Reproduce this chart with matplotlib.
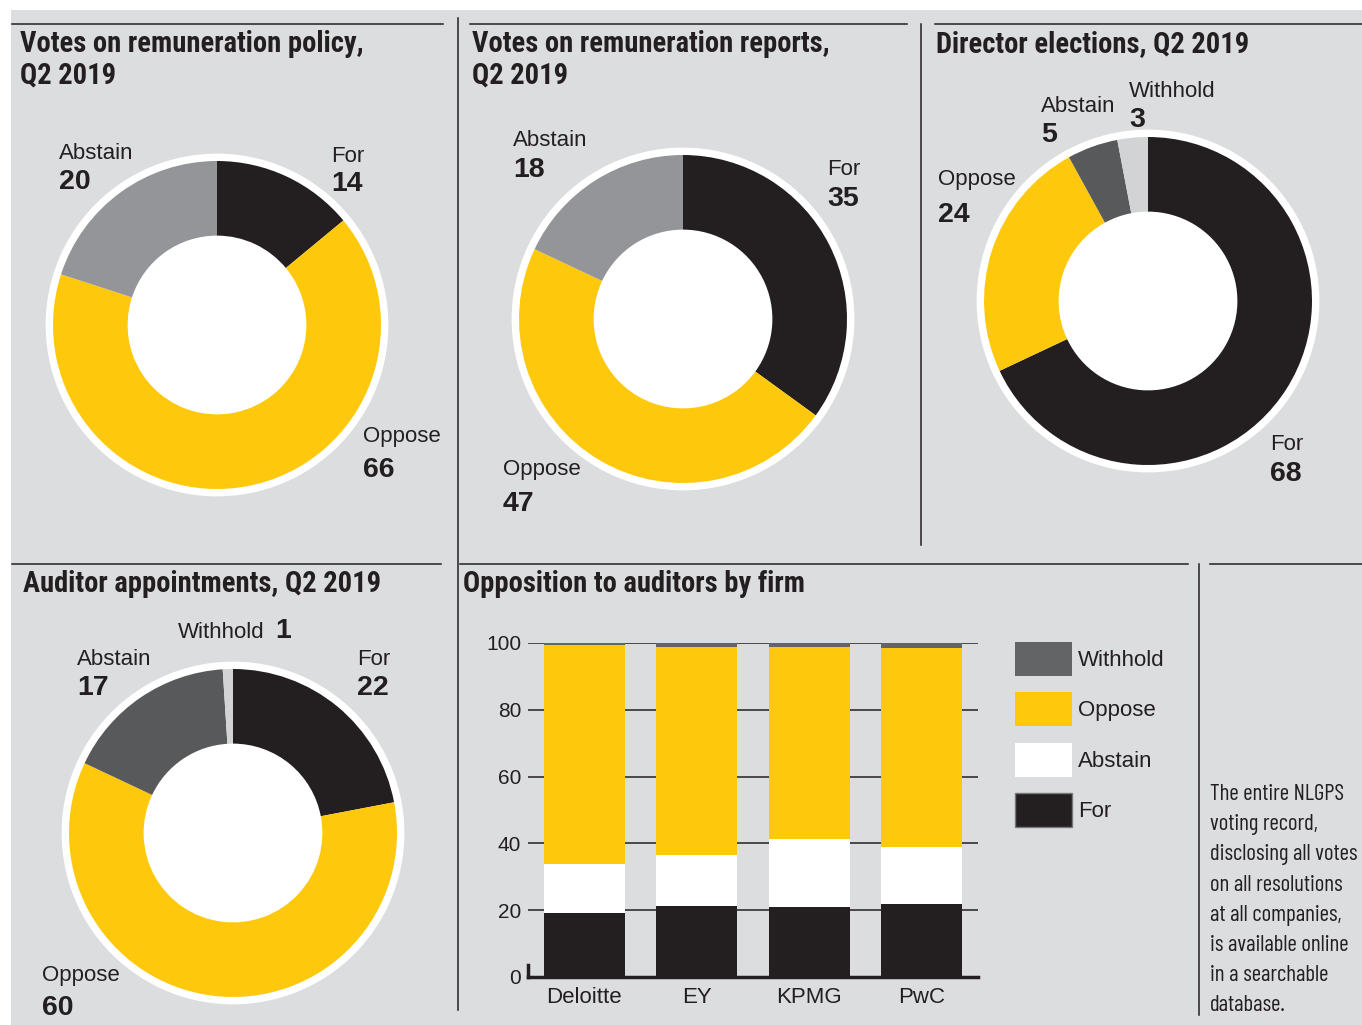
import os
import matplotlib
matplotlib.use("Agg")
import matplotlib.pyplot as plt
from matplotlib import font_manager
from matplotlib.font_manager import FontProperties
from matplotlib.patches import Rectangle, Circle, Patch
from matplotlib.lines import Line2D
import numpy as np

# ---- data ----
policy_labels = ["For", "Oppose", "Abstain"]
policy_values = [14, 66, 20]

reports_labels = ["For", "Oppose", "Abstain"]
reports_values = [35, 47, 18]

director_labels = ["For", "Oppose", "Abstain", "Withhold"]
director_values = [68, 24, 5, 3]

auditor_labels = ["For", "Oppose", "Abstain", "Withhold"]
auditor_values = [22, 60, 17, 1]

firms = ["Deloitte", "EY", "KPMG", "PwC"]
firm_for = [19.1, 21.2, 20.9, 21.8]
firm_abstain = [14.6, 15.2, 20.3, 17.0]
firm_oppose = [65.6, 62.3, 57.5, 59.6]
firm_withhold = [0.7, 1.3, 1.3, 1.6]

note_lines = ["The entire NLGPS", "voting record,", "disclosing all votes",
              "on all resolutions", "at all companies,", "is available online",
              "in a searchable", "database."]

# ---- style ----
BG = "#dcdddf"
INK = "#231f20"
YELLOW = "#fec90c"
GREY_MID = "#939598"
GREY_DARK = "#58595b"
GREY_LIGHT = "#d1d3d4"
GREY_BAR = "#636466"

REG = "Liberation Sans"
plt.rcParams["font.family"] = [REG, "DejaVu Sans"]

W, H = 1362, 1025
fig = plt.figure(figsize=(W / 100, H / 100), dpi=100)
fig.patch.set_facecolor("white")
renderer = fig.canvas.get_renderer()


def fit_size(s, target_px, fp):
    fp = fp.copy()
    fp.set_size(20)
    t = fig.text(0, 0, s, fontproperties=fp)
    wpx = t.get_window_extent(renderer).width
    t.remove()
    return 20 * target_px / wpx


# pick condensed faces whose fitted size comes closest to the reference's cap height
bold_files, reg_files = [], []
for f in font_manager.fontManager.ttflist:
    base = os.path.basename(f.fname).lower()
    if not ("condensed" in base or "narrow" in base):
        continue
    if "italic" in base or "oblique" in base:
        continue
    if base.endswith("bold.ttf") and "semibold" not in base and "extrabold" not in base:
        bold_files.append(f.fname)
    elif base.endswith("regular.ttf") or base in ("dejavusanscondensed.ttf",):
        reg_files.append(f.fname)


def choose(files, s, target_px, want, fallback):
    best = (FontProperties(family=REG, weight=fallback), None)
    best_size = fit_size(s, target_px, best[0])
    best_err = abs(best_size - want)
    for fn in files:
        fp = FontProperties(fname=fn)
        sz = fit_size(s, target_px, fp)
        if abs(sz - want) < best_err:
            best, best_size, best_err = (fp, fn), sz, abs(sz - want)
    fp = best[0].copy()
    fp.set_size(min(best_size, want + 1))
    return fp


title_fp = choose(bold_files, "Votes on remuneration policy,", 342, 20.5, "bold")
note_fp = choose(reg_files, "disclosing all votes", 148, 16.5, "normal")


def fx(x):
    return x / W


def fy(y):
    return 1 - y / H


fig.add_artist(Rectangle((fx(11), fy(1025)), (W - 11) / W, (1025 - 10) / H,
                         transform=fig.transFigure, facecolor=BG, edgecolor="none", zorder=-5))


def hline(x0, x1, y):
    fig.add_artist(Line2D([fx(x0), fx(x1)], [fy(y), fy(y)], color=INK, lw=1.1))


def vline(x, y0, y1):
    fig.add_artist(Line2D([fx(x), fx(x)], [fy(y0), fy(y1)], color=INK, lw=1.1))


hline(12, 443, 24)
hline(470, 907, 24)
hline(935, 1362, 24)
hline(12, 441, 564)
hline(460, 1188, 564)
hline(1210, 1362, 564)
vline(458, 18, 1010)
vline(921, 24, 545)
vline(1199, 564, 1015)


def title(x, y, s):
    fig.text(fx(x), fy(y), s, fontproperties=title_fp, color=INK, va="baseline", ha="left")


title(20, 52, "Votes on remuneration policy,")
title(20, 83, "Q2 2019")
title(472, 52, "Votes on remuneration reports,")
title(472, 83, "Q2 2019")
title(936, 52, "Director elections, Q2 2019")
title(23, 592, "Auditor appointments, Q2 2019")
title(463, 592, "Opposition to auditors by firm")


def donut(cx, cy, values, colors, r=164):
    lim = 1.1
    size = 2 * r * lim
    ax = fig.add_axes([fx(cx - size / 2), fy(cy + size / 2), size / W, size / H])
    ax.add_patch(Circle((0, 0), 1.045, facecolor="white", edgecolor="none", zorder=0))
    ax.pie(values, colors=colors, startangle=90, counterclock=False, radius=1,
           wedgeprops=dict(width=0.455, linewidth=0))
    ax.set_xlim(-lim, lim)
    ax.set_ylim(-lim, lim)
    ax.axis("off")
    return ax


def label(x, y_name, y_val, name, val):
    fig.text(fx(x), fy(y_name), name, fontsize=16, color=INK, va="baseline")
    fig.text(fx(x), fy(y_val), str(val), fontsize=20.5, weight="bold", color=INK, va="baseline")


# pie 1
donut(217, 325, policy_values, [INK, YELLOW, GREY_MID])
label(59, 159, 189, "Abstain", policy_values[2])
label(331, 162, 191, "For", policy_values[0])
label(363, 442, 477, "Oppose", policy_values[1])

# pie 2
donut(683, 319, reports_values, [INK, YELLOW, GREY_MID])
label(513, 146, 177, "Abstain", reports_values[2])
label(827, 175, 206, "For", reports_values[0])
label(503, 475, 511, "Oppose", reports_values[1])

# pie 3
donut(1148, 301, director_values, [INK, YELLOW, GREY_DARK, GREY_LIGHT])
label(1041, 112, 142, "Abstain", director_values[2])
label(1129, 97, 127, "Withhold", director_values[3])
label(938, 185, 222, "Oppose", director_values[1])
label(1270, 450, 481, "For", director_values[0])

# pie 4
donut(233, 833, auditor_values, [INK, YELLOW, GREY_DARK, GREY_LIGHT])
fig.text(fx(178), fy(638), "Withhold", fontsize=16, color=INK, va="baseline")
fig.text(fx(275), fy(638), str(auditor_values[3]), fontsize=20.5, weight="bold",
         color=INK, va="baseline")
label(77, 665, 695, "Abstain", auditor_values[2])
label(357, 665, 695, "For", auditor_values[0])
label(42, 981, 1015, "Oppose", auditor_values[1])

# ---- stacked bars ----
bx0, bx1, by0, by1 = 528, 978, 643, 977
ax = fig.add_axes([fx(bx0), fy(by1), (bx1 - bx0) / W, (by1 - by0) / H])
ax.set_facecolor("none")
x = np.arange(len(firms))
bw = 0.72
f = np.array(firm_for)
a = np.array(firm_abstain)
o = np.array(firm_oppose)
w = np.array(firm_withhold)
ax.bar(x, f, bw, color=INK, zorder=3)
ax.bar(x, a, bw, bottom=f, color="white", zorder=3)
ax.bar(x, o, bw, bottom=f + a, color=YELLOW, zorder=3)
ax.bar(x, w, bw, bottom=f + a + o, color=GREY_BAR, zorder=3)
ax.set_xlim(-0.5, 3.5)
ax.set_ylim(0, 100)
ax.set_yticks(range(0, 101, 20))
ax.grid(axis="y", color=INK, lw=1.1, zorder=0)
ax.set_axisbelow(True)
for s in ["top", "right", "left"]:
    ax.spines[s].set_visible(False)
ax.spines["bottom"].set_color(INK)
ax.spines["bottom"].set_linewidth(2.5)
ax.spines["bottom"].set_zorder(4)
ax.axvline(-0.5, ymax=0.035, color=INK, lw=2.5, clip_on=False, zorder=4)
ax.set_xticks(x)
ax.set_xticklabels(firms)
ax.tick_params(axis="both", length=0, colors=INK)
ax.tick_params(axis="y", pad=5, labelsize=15)
ax.tick_params(axis="x", pad=7, labelsize=16)

legend_handles = [
    Patch(facecolor=GREY_BAR, edgecolor="none", label="Withhold"),
    Patch(facecolor=YELLOW, edgecolor="none", label="Oppose"),
    Patch(facecolor="white", edgecolor="none", label="Abstain"),
    Patch(facecolor=INK, edgecolor="#777777", lw=1, label="For"),
]
fig.legend(handles=legend_handles, loc="upper left", bbox_to_anchor=(fx(1015), fy(642)),
           frameon=False, fontsize=16, borderpad=0, borderaxespad=0,
           handlelength=2.55, handleheight=1.98, labelspacing=0.73, handletextpad=0.3,
           labelcolor=INK)

# ---- note ----
for i, line in enumerate(note_lines):
    fig.text(fx(1210), fy(800 + i * 30.2), line, fontproperties=note_fp,
             color=INK, va="baseline")

fig.savefig("out.png", dpi=100, facecolor=fig.get_facecolor())
